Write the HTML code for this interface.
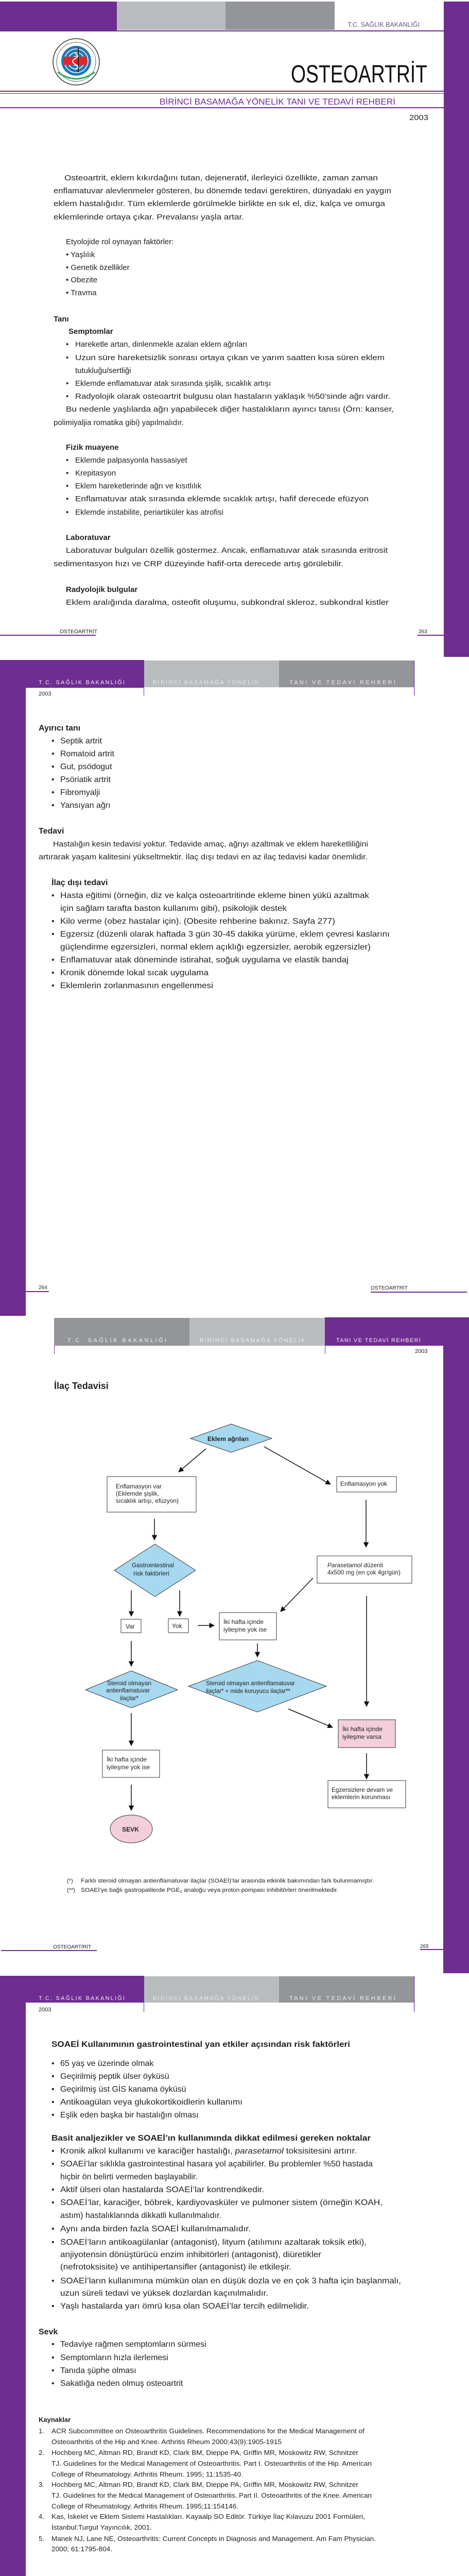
<!DOCTYPE html>
<html><head><meta charset="utf-8"><style>
html,body{margin:0;padding:0;background:#fff;width:911px;height:5108px;overflow:hidden;}
svg{display:block;}
text{font-family:"Liberation Sans",Arial,sans-serif;fill:#222;}
.b{font-size:15px;}
.l{font-size:16px;}
.h{font-size:16px;font-weight:bold;}
.f{font-size:12px;}
.r{font-size:13px;}
.n{font-size:11px;}
.hd{font-size:11px;fill:#f2eef6;}
</style></head><body>
<svg width="911" height="5108" viewBox="0 0 911 5108" xmlns="http://www.w3.org/2000/svg">
<defs>
<marker id="a" viewBox="0 0 10 10" refX="9" refY="5" markerWidth="7" markerHeight="7" orient="auto-start-reverse"><path d="M0,0 L10,5 L0,10 z" fill="#111"/></marker>
</defs>

<!-- ============ PAGE 1 ============ -->
<rect x="0" y="3" width="227" height="57" fill="#6f2c91"/>
<rect x="227" y="3" width="211" height="55" fill="#b9bcbf"/>
<rect x="438" y="3" width="212" height="55" fill="#939598"/>
<rect x="0" y="59" width="862" height="2" fill="#6f2c91"/>
<rect x="862" y="3" width="49" height="1272" fill="#6f2c91"/>
<text x="675" y="52" font-size="13" textLength="140" lengthAdjust="spacingAndGlyphs" style="fill:#6b4f86">T.C. SAĞLIK BAKANLIĞI</text>
<g>
<circle cx="148" cy="120" r="45" fill="#fff" stroke="#333" stroke-width="1.5"/>
<circle cx="148" cy="120" r="38" fill="none" stroke="#333" stroke-width="0.8"/>
<circle cx="148" cy="118" r="29" fill="#1f78b4"/>
<circle cx="148" cy="118" r="23" fill="none" stroke="#fff" stroke-width="1.5"/>
<circle cx="148" cy="118" r="16" fill="none" stroke="#fff" stroke-width="1.5"/>
<circle cx="148" cy="118" r="9" fill="none" stroke="#fff" stroke-width="1.5"/>
<rect x="124" y="110" width="45" height="16" fill="#e0262d"/>
<path d="M152,92 L152,140" stroke="#222" stroke-width="2"/>
<path d="M146,104 q10,4 0,10 q-10,5 0,11 q10,4 0,10" fill="none" stroke="#fff" stroke-width="2"/>
<path d="M112,140 q36,26 72,0" fill="none" stroke="#3a6" stroke-width="3"/>
</g>
<text x="565" y="160" font-size="48" textLength="265" lengthAdjust="spacingAndGlyphs" style="fill:#111">OSTEOARTRİT</text>
<rect x="0" y="176" width="862" height="2" fill="#6f2c91"/>
<rect x="0" y="181" width="862" height="1" fill="#6f2c91"/>
<text x="310" y="203" font-size="17" textLength="458" lengthAdjust="spacingAndGlyphs" style="fill:#6f2c91">BİRİNCİ BASAMAĞA YÖNELİK TANI VE TEDAVİ REHBERİ</text>
<rect x="0" y="208" width="862" height="2" fill="#6f2c91"/>
<text x="795" y="233" font-size="15" textLength="37" lengthAdjust="spacingAndGlyphs">2003</text>

<text class="b" x="125" y="350" textLength="609" lengthAdjust="spacingAndGlyphs">Osteoartrit, eklem kıkırdağını tutan, dejeneratif, ilerleyici özellikte, zaman zaman</text>
<text class="b" x="104" y="375" textLength="656" lengthAdjust="spacingAndGlyphs">enflamatuvar alevlenmeler gösteren, bu dönemde tedavi gerektiren, dünyadaki en yaygın</text>
<text class="b" x="104" y="400" textLength="644" lengthAdjust="spacingAndGlyphs">eklem hastalığıdır. Tüm eklemlerde görülmekle birlikte en sık el, diz, kalça ve omurga</text>
<text class="b" x="104" y="426" textLength="370" lengthAdjust="spacingAndGlyphs">eklemlerinde ortaya çıkar. Prevalansı yaşla artar.</text>

<text class="b" x="128" y="474">Etyolojide rol oynayan faktörler:</text>
<text class="b" x="128" y="499">• Yaşlılık</text>
<text class="b" x="128" y="524">• Genetik özellikler</text>
<text class="b" x="128" y="548">• Obezite</text>
<text class="b" x="128" y="573">• Travma</text>

<text class="b" x="104" y="624" font-weight="bold">Tanı</text>
<text class="b" x="133" y="648" font-weight="bold">Semptomlar</text>
<text class="b" x="128" y="673">•</text><text class="b" x="146" y="673">Hareketle artan, dinlenmekle azalan eklem ağrıları</text>
<text class="b" x="128" y="699">•</text><text class="b" x="146" y="699" textLength="601" lengthAdjust="spacingAndGlyphs">Uzun süre hareketsizlik sonrası ortaya çıkan ve yarım saatten kısa süren eklem</text>
<text class="b" x="146" y="724">tutukluğu/sertliği</text>
<text class="b" x="128" y="749">•</text><text class="b" x="146" y="749">Eklemde enflamatuvar atak sırasında şişlik, sıcaklık artışı</text>
<text class="b" x="128" y="774">•</text><text class="b" x="146" y="774" textLength="612" lengthAdjust="spacingAndGlyphs">Radyolojik olarak osteoartrit bulgusu olan hastaların yaklaşık %50’sinde ağrı vardır.</text>
<text class="b" x="128" y="799" textLength="637" lengthAdjust="spacingAndGlyphs">Bu nedenle  yaşlılarda ağrı yapabilecek diğer hastalıkların ayırıcı tanısı (Örn: kanser,</text>
<text class="b" x="104" y="825">polimiyaljia romatika gibi) yapılmalıdır.</text>

<text class="b" x="128" y="873" font-weight="bold">Fizik muayene</text>
<text class="b" x="128" y="898">•</text><text class="b" x="146" y="898">Eklemde palpasyonla hassasiyet</text>
<text class="b" x="128" y="923">•</text><text class="b" x="146" y="923">Krepitasyon</text>
<text class="b" x="128" y="948">•</text><text class="b" x="146" y="948">Eklem hareketlerinde ağrı ve kısıtlılık</text>
<text class="b" x="128" y="973">•</text><text class="b" x="146" y="973" textLength="570" lengthAdjust="spacingAndGlyphs">Enflamatuvar atak sırasında eklemde sıcaklık artışı, hafif derecede efüzyon</text>
<text class="b" x="128" y="999">•</text><text class="b" x="146" y="999">Eklemde instabilite, periartiküler kas atrofisi</text>

<text class="b" x="128" y="1048" font-weight="bold">Laboratuvar</text>
<text class="b" x="128" y="1073" textLength="625" lengthAdjust="spacingAndGlyphs">Laboratuvar bulguları özellik göstermez. Ancak, enflamatuvar atak sırasında eritrosit</text>
<text class="b" x="104" y="1099" textLength="563" lengthAdjust="spacingAndGlyphs">sedimentasyon hızı ve CRP düzeyinde hafif-orta derecede artış görülebilir.</text>
<text class="b" x="128" y="1149" font-weight="bold">Radyolojik bulgular</text>
<text class="b" x="128" y="1174" textLength="627" lengthAdjust="spacingAndGlyphs">Eklem aralığında daralma, osteofit oluşumu, subkondral skleroz, subkondral kistler</text>

<text x="116" y="1229" font-size="10" textLength="73" lengthAdjust="spacingAndGlyphs">OSTEOARTRİT</text>
<rect x="0" y="1232" width="186" height="2" fill="#6f2c91"/>
<text x="813" y="1229" font-size="10">263</text>
<rect x="811" y="1232" width="51" height="2" fill="#6f2c91"/>

<!-- ============ PAGE 2 ============ -->
<rect x="0" y="1281" width="280" height="54" fill="#6f2c91"/>
<rect x="280" y="1282" width="262" height="52" fill="#b9bcbf"/>
<rect x="542" y="1282" width="263" height="52" fill="#939598"/>
<rect x="0" y="1335" width="50" height="1219" fill="#6f2c91"/>
<rect x="279" y="1334" width="1" height="16" fill="#6f2c91"/>
<rect x="804" y="1282" width="1.2" height="68" fill="#6f2c91"/>
<text class="hd" x="75" y="1328" textLength="167" lengthAdjust="spacing">T.C. SAĞLIK BAKANLIĞI</text>
<text class="hd" x="297" y="1328" textLength="205" lengthAdjust="spacing" style="fill:#e6e7e8">BİRİNCİ BASAMAĞA YÖNELİK</text>
<text class="hd" x="562" y="1328" textLength="206" lengthAdjust="spacing" style="fill:#eeeeee">TANI VE TEDAVİ REHBERİ</text>
<text x="75" y="1350" font-size="11">2003</text>

<text class="h" x="75" y="1418">Ayırıcı tanı</text>
<text class="l" x="100" y="1443">•</text><text class="l" x="117" y="1443">Septik artrit</text>
<text class="l" x="100" y="1468">•</text><text class="l" x="117" y="1468">Romatoid artrit</text>
<text class="l" x="100" y="1493">•</text><text class="l" x="117" y="1493">Gut, psödogut</text>
<text class="l" x="100" y="1518">•</text><text class="l" x="117" y="1518">Psöriatik artrit</text>
<text class="l" x="100" y="1543">•</text><text class="l" x="117" y="1543">Fibromyalji</text>
<text class="l" x="100" y="1568">•</text><text class="l" x="117" y="1568">Yansıyan ağrı</text>

<text class="h" x="75" y="1618">Tedavi</text>
<text class="b" x="103" y="1643" textLength="612" lengthAdjust="spacingAndGlyphs">Hastalığın kesin tedavisi yoktur. Tedavide amaç, ağrıyı azaltmak ve eklem hareketliliğini</text>
<text class="b" x="75" y="1668" textLength="639" lengthAdjust="spacingAndGlyphs">artırarak yaşam kalitesini yükseltmektir. İlaç dışı tedavi en az ilaç tedavisi kadar önemlidir.</text>

<text class="h" x="100" y="1718">İlaç dışı tedavi</text>
<text class="l" x="100" y="1743">•</text><text class="l" x="117" y="1743" textLength="600" lengthAdjust="spacingAndGlyphs">Hasta eğitimi (örneğin, diz ve kalça osteoartritinde ekleme binen yükü azaltmak</text>
<text class="l" x="117" y="1768" textLength="440" lengthAdjust="spacingAndGlyphs">için sağlam tarafta baston kullanımı gibi), psikolojik destek</text>
<text class="l" x="100" y="1793">•</text><text class="l" x="117" y="1793" textLength="534" lengthAdjust="spacingAndGlyphs">Kilo verme (obez hastalar için). (Obesite rehberine bakınız. Sayfa 277)</text>
<text class="l" x="100" y="1818">•</text><text class="l" x="117" y="1818" textLength="640" lengthAdjust="spacingAndGlyphs">Egzersiz (düzenli olarak haftada 3 gün 30-45 dakika yürüme, eklem çevresi kaslarını</text>
<text class="l" x="117" y="1843" textLength="603" lengthAdjust="spacingAndGlyphs">güçlendirme egzersizleri, normal eklem açıklığı egzersizler, aerobik egzersizler)</text>
<text class="l" x="100" y="1868">•</text><text class="l" x="117" y="1868" textLength="560" lengthAdjust="spacingAndGlyphs">Enflamatuvar atak döneminde istirahat, soğuk uygulama ve elastik bandaj</text>
<text class="l" x="100" y="1893">•</text><text class="l" x="117" y="1893" textLength="288" lengthAdjust="spacingAndGlyphs">Kronik dönemde lokal sıcak uygulama</text>
<text class="l" x="100" y="1918">•</text><text class="l" x="117" y="1918" textLength="297" lengthAdjust="spacingAndGlyphs">Eklemlerin zorlanmasının engellenmesi</text>

<text x="75" y="2502" font-size="10">264</text>
<rect x="50" y="2506" width="45" height="2" fill="#6f2c91"/>
<text x="720" y="2503" font-size="10" textLength="72" lengthAdjust="spacingAndGlyphs">OSTEOARTRİT</text>
<rect x="720" y="2507" width="187" height="2" fill="#6f2c91"/>

<!-- ============ PAGE 3 ============ -->
<rect x="105" y="2558" width="263" height="54" fill="#939598"/>
<rect x="368" y="2558" width="263" height="54" fill="#b9bcbf"/>
<rect x="631" y="2557" width="280" height="55" fill="#6f2c91"/>
<rect x="861" y="2557" width="50" height="1273" fill="#6f2c91"/>
<rect x="105" y="2612" width="1" height="16" fill="#6f2c91"/>
<rect x="631" y="2612" width="1" height="16" fill="#6f2c91"/>
<text class="hd" x="131" y="2605" textLength="192" lengthAdjust="spacing" style="fill:#f0f0f0">T.C. SAĞLIK BAKANLIĞI</text>
<text class="hd" x="388" y="2605" textLength="204" lengthAdjust="spacing" style="fill:#eeeeee">BİRİNCİ BASAMAĞA YÖNELİK</text>
<text class="hd" x="653" y="2605" textLength="164" lengthAdjust="spacing" style="fill:#f4eef8">TANI VE TEDAVİ REHBERİ</text>
<text x="806" y="2626" font-size="11">2003</text>

<text x="105" y="2696" font-size="18" font-weight="bold">İlaç Tedavisi</text>

<g stroke="#111" stroke-width="1.5" fill="none" marker-end="url(#a)">
<line x1="400" y1="2812" x2="347" y2="2857"/>
<line x1="513" y1="2808" x2="642" y2="2881"/>
<line x1="300" y1="2948" x2="300" y2="2989"/>
<line x1="711" y1="2911" x2="711" y2="3003"/>
<line x1="608" y1="3063" x2="545" y2="3128"/>
<line x1="255" y1="3087" x2="255" y2="3137"/>
<line x1="349" y1="3087" x2="349" y2="3137"/>
<line x1="384" y1="3155" x2="416" y2="3155"/>
<line x1="500" y1="3190" x2="500" y2="3216"/>
<line x1="255" y1="3185" x2="255" y2="3234"/>
<line x1="712" y1="3098" x2="712" y2="3312"/>
<line x1="560" y1="3317" x2="646" y2="3353"/>
<line x1="712" y1="3403" x2="712" y2="3453"/>
<line x1="255" y1="3325" x2="255" y2="3388"/>
<line x1="255" y1="3464" x2="255" y2="3514"/>
</g>
<g stroke="#333" stroke-width="1">
<polygon points="449,2764 528,2792 449,2819 370,2792" fill="#a6d8f0"/>
<rect x="208" y="2866" width="173" height="69" fill="#fff"/>
<rect x="654" y="2866" width="116" height="30" fill="#fff"/>
<polygon points="301,2997 380,3048 301,3099 222,3048" fill="#a6d8f0"/>
<rect x="616" y="3020" width="184" height="53" fill="#fff"/>
<rect x="235" y="3143" width="39" height="26" fill="#fff"/>
<rect x="327" y="3142" width="39" height="27" fill="#fff"/>
<rect x="426" y="3130" width="111" height="53" fill="#fff"/>
<polygon points="255,3243 345,3280 255,3315 166,3280" fill="#a6d8f0"/>
<polygon points="500,3223 634,3273 500,3323 366,3273" fill="#a6d8f0"/>
<rect x="657" y="3338" width="111" height="54" fill="#f2cfda"/>
<rect x="637" y="3456" width="151" height="53" fill="#fff"/>
<rect x="199" y="3397" width="111" height="53" fill="#fff"/>
<ellipse cx="255" cy="3550" rx="41" ry="27" fill="#f2cfda"/>
</g>
<text class="f" x="403" y="2797" font-weight="bold" textLength="80" lengthAdjust="spacingAndGlyphs">Eklem ağrıları</text>
<text class="f" x="225" y="2889" textLength="89" lengthAdjust="spacingAndGlyphs">Enflamasyon var</text>
<text class="f" x="225" y="2903" textLength="84" lengthAdjust="spacingAndGlyphs">(Eklemde şişlik,</text>
<text class="f" x="225" y="2917" textLength="122" lengthAdjust="spacingAndGlyphs">sıcaklık artışı, efüzyon)</text>
<text class="f" x="661" y="2884" textLength="91" lengthAdjust="spacingAndGlyphs">Enflamasyon yok</text>
<text class="f" x="256" y="3042" textLength="82" lengthAdjust="spacingAndGlyphs">Gastrointestinal</text>
<text class="f" x="259" y="3058" textLength="70" lengthAdjust="spacingAndGlyphs">risk faktörleri</text>
<text class="f" x="636" y="3042" textLength="108" lengthAdjust="spacingAndGlyphs"><tspan font-style="italic">Parasetamol</tspan> düzenli</text>
<text class="f" x="636" y="3056" textLength="142" lengthAdjust="spacingAndGlyphs">4x500 mg (en çok 4gr/gün)</text>
<text class="f" x="244" y="3161">Var</text>
<text class="f" x="334" y="3160">Yok</text>
<text class="f" x="434" y="3152" textLength="78" lengthAdjust="spacingAndGlyphs">İki hafta içinde</text>
<text class="f" x="434" y="3167" textLength="84" lengthAdjust="spacingAndGlyphs">iyileşme yok ise</text>
<text class="f" x="208" y="3271" textLength="86" lengthAdjust="spacingAndGlyphs">Steroid olmayan</text>
<text class="f" x="206" y="3285" textLength="85" lengthAdjust="spacingAndGlyphs">antienflamatuvar</text>
<text class="f" x="233" y="3300" textLength="36" lengthAdjust="spacingAndGlyphs">ilaçlar*</text>
<text class="f" x="400" y="3271" textLength="173" lengthAdjust="spacingAndGlyphs">Steroid olmayan antienflamatuvar</text>
<text class="f" x="400" y="3286" textLength="164" lengthAdjust="spacingAndGlyphs">ilaçlar* + mide koruyucu ilaçlar**</text>
<text class="f" x="665" y="3360" textLength="78" lengthAdjust="spacingAndGlyphs">İki hafta içinde</text>
<text class="f" x="665" y="3375" textLength="76" lengthAdjust="spacingAndGlyphs">iyileşme varsa</text>
<text class="f" x="644" y="3478" textLength="119" lengthAdjust="spacingAndGlyphs">Egzersizlere devam ve</text>
<text class="f" x="644" y="3492" textLength="114" lengthAdjust="spacingAndGlyphs">eklemlerin korunması</text>
<text class="f" x="207" y="3419" textLength="78" lengthAdjust="spacingAndGlyphs">İki hafta içinde</text>
<text class="f" x="207" y="3434" textLength="84" lengthAdjust="spacingAndGlyphs">iyileşme yok ise</text>
<text class="f" x="237" y="3555" font-weight="bold" textLength="33" lengthAdjust="spacingAndGlyphs">SEVK</text>

<text class="n" x="130" y="3654">(*)</text>
<text class="n" x="157" y="3654" textLength="569" lengthAdjust="spacingAndGlyphs">Farklı steroid olmayan antienflamatuvar ilaçlar (SOAEİ)’lar arasında etkinlik bakımından fark bulunmamıştır.</text>
<text class="n" x="130" y="3672">(**)</text>
<text class="n" x="157" y="3672" textLength="500" lengthAdjust="spacingAndGlyphs">SOAEİ’ye bağlı gastropatilerde PGE<tspan font-size="7" dy="2">2</tspan><tspan dy="-2"> analoğu veya proton pompası inhibitörleri önerilmektedir.</tspan></text>

<text x="103" y="3782" font-size="10" textLength="74" lengthAdjust="spacingAndGlyphs">OSTEOARTİRİT</text>
<rect x="2" y="3785" width="186" height="2" fill="#6f2c91"/>
<text x="816" y="3781" font-size="10">265</text>
<rect x="816" y="3783" width="45" height="2" fill="#6f2c91"/>

<!-- ============ PAGE 4 ============ -->
<rect x="0" y="3835" width="280" height="52" fill="#6f2c91"/>
<rect x="280" y="3836" width="262" height="51" fill="#b9bcbf"/>
<rect x="542" y="3836" width="263" height="51" fill="#939598"/>
<rect x="0" y="3887" width="50" height="1221" fill="#6f2c91"/>
<rect x="279" y="3887" width="1" height="18" fill="#6f2c91"/>
<rect x="804" y="3836" width="1.2" height="69" fill="#6f2c91"/>
<text class="hd" x="75" y="3882" textLength="167" lengthAdjust="spacing">T.C. SAĞLIK BAKANLIĞI</text>
<text class="hd" x="297" y="3882" textLength="205" lengthAdjust="spacing" style="fill:#e6e7e8">BİRİNCİ BASAMAĞA YÖNELİK</text>
<text class="hd" x="562" y="3882" textLength="206" lengthAdjust="spacing" style="fill:#eeeeee">TANI VE TEDAVİ REHBERİ</text>
<text x="75" y="3904" font-size="11">2003</text>

<text class="h" x="100" y="3973" textLength="580" lengthAdjust="spacingAndGlyphs">SOAEİ Kullanımının gastrointestinal yan etkiler açısından risk faktörleri</text>
<text class="l" x="100" y="4010">•</text><text class="l" x="117" y="4010">65 yaş ve üzerinde olmak</text>
<text class="l" x="100" y="4035">•</text><text class="l" x="117" y="4035">Geçirilmiş peptik ülser öyküsü</text>
<text class="l" x="100" y="4060">•</text><text class="l" x="117" y="4060">Geçirilmiş üst GİS kanama öyküsü</text>
<text class="l" x="100" y="4085">•</text><text class="l" x="117" y="4085" textLength="354" lengthAdjust="spacingAndGlyphs">Antikoagülan veya glukokortikoidlerin kullanımı</text>
<text class="l" x="100" y="4110">•</text><text class="l" x="117" y="4110">Eşlik eden başka bir hastalığın olması</text>

<text class="h" x="100" y="4155" textLength="620" lengthAdjust="spacingAndGlyphs">Basit analjezikler ve SOAEİ’ın kullanımında dikkat edilmesi gereken noktalar</text>
<text class="l" x="100" y="4180">•</text><text class="l" x="117" y="4180" textLength="576" lengthAdjust="spacingAndGlyphs">Kronik alkol kullanımı ve karaciğer hastalığı, <tspan font-style="italic">parasetamol</tspan> toksisitesini artırır.</text>
<text class="l" x="100" y="4205">•</text><text class="l" x="117" y="4205" textLength="607" lengthAdjust="spacingAndGlyphs">SOAEİ’lar sıklıkla gastrointestinal hasara yol açabilirler. Bu problemler %50 hastada</text>
<text class="l" x="117" y="4230">hiçbir ön belirti vermeden başlayabilir.</text>
<text class="l" x="100" y="4255">•</text><text class="l" x="117" y="4255" textLength="396" lengthAdjust="spacingAndGlyphs">Aktif ülseri olan hastalarda SOAEİ’lar kontrendikedir.</text>
<text class="l" x="100" y="4280">•</text><text class="l" x="117" y="4280" textLength="626" lengthAdjust="spacingAndGlyphs">SOAEİ’lar, karaciğer, böbrek, kardiyovasküler ve pulmoner sistem  (örneğin KOAH,</text>
<text class="l" x="117" y="4305">astım) hastalıklarında dikkatli kullanılmalıdır.</text>
<text class="l" x="100" y="4331">•</text><text class="l" x="117" y="4331" textLength="370" lengthAdjust="spacingAndGlyphs">Aynı anda birden fazla SOAEİ  kullanılmamalıdır.</text>
<text class="l" x="100" y="4357">•</text><text class="l" x="117" y="4357" textLength="595" lengthAdjust="spacingAndGlyphs">SOAEİ’ların antikoagülanlar (antagonist), lityum (atılımını azaltarak toksik etki),</text>
<text class="l" x="117" y="4381" textLength="507" lengthAdjust="spacingAndGlyphs">anjiyotensin dönüştürücü enzim inhibitörleri (antagonist), diüretikler</text>
<text class="l" x="117" y="4405" textLength="449" lengthAdjust="spacingAndGlyphs">(nefrotoksisite) ve antihipertansifler (antagonist) ile etkileşir.</text>
<text class="l" x="100" y="4432">•</text><text class="l" x="117" y="4432" textLength="662" lengthAdjust="spacingAndGlyphs">SOAEİ’ların kullanımına mümkün olan en düşük dozla ve en çok 3 hafta için başlanmalı,</text>
<text class="l" x="117" y="4456" textLength="404" lengthAdjust="spacingAndGlyphs">uzun süreli tedavi ve yüksek dozlardan kaçınılmalıdır.</text>
<text class="l" x="100" y="4481">•</text><text class="l" x="117" y="4481" textLength="483" lengthAdjust="spacingAndGlyphs">Yaşlı hastalarda yarı ömrü kısa olan SOAEİ’lar tercih edilmelidir.</text>

<text class="h" x="75" y="4531">Sevk</text>
<text class="l" x="100" y="4555">•</text><text class="l" x="117" y="4555">Tedaviye rağmen semptomların sürmesi</text>
<text class="l" x="100" y="4581">•</text><text class="l" x="117" y="4581">Semptomların hızla ilerlemesi</text>
<text class="l" x="100" y="4606">•</text><text class="l" x="117" y="4606">Tanıda şüphe olması</text>
<text class="l" x="100" y="4631">•</text><text class="l" x="117" y="4631">Sakatlığa neden olmuş osteoartrit</text>

<text x="75" y="4701" font-size="13" font-weight="bold">Kaynaklar</text>
<text class="r" x="75" y="4723">1.</text><text class="r" x="100" y="4723" textLength="608" lengthAdjust="spacingAndGlyphs">ACR Subcommittee on Osteoarthritis Guidelines. Recommendations for the Medical Management of</text>
<text class="r" x="100" y="4744" textLength="447" lengthAdjust="spacingAndGlyphs">Osteoarthritis of the Hip and Knee. Arthritis Rheum 2000;43(9):1905-1915</text>
<text class="r" x="75" y="4765">2.</text><text class="r" x="100" y="4765" textLength="596" lengthAdjust="spacingAndGlyphs">Hochberg MC, Altman RD, Brandt KD, Clark BM, Dieppe PA, Griffin MR, Moskowitz RW, Schnitzer</text>
<text class="r" x="100" y="4786" textLength="622" lengthAdjust="spacingAndGlyphs">TJ. Guidelines for the Medical Management of Osteoarthritis. Part I. Osteoarthritis of the Hip. American</text>
<text class="r" x="100" y="4807" textLength="372" lengthAdjust="spacingAndGlyphs">College of Rheumatology. Arthritis Rheum. 1995; 11:1535-40.</text>
<text class="r" x="75" y="4827">3.</text><text class="r" x="100" y="4827" textLength="596" lengthAdjust="spacingAndGlyphs">Hochberg MC, Altman RD, Brandt KD, Clark BM, Dieppe PA, Griffin MR, Moskowitz RW, Schnitzer</text>
<text class="r" x="100" y="4848" textLength="622" lengthAdjust="spacingAndGlyphs">TJ. Guidelines for the Medical Management of Osteoarthritis. Part II. Osteoarthritis of the Knee. American</text>
<text class="r" x="100" y="4869" textLength="363" lengthAdjust="spacingAndGlyphs">College of Rheumatology. Arthritis Rheum. 1995;11:154146.</text>
<text class="r" x="75" y="4889">4.</text><text class="r" x="100" y="4889" textLength="609" lengthAdjust="spacingAndGlyphs">Kas, İskelet ve Eklem Sistemi Hastalıkları.  Kayaalp SO Editör. Türkiye İlaç Kılavuzu 2001 Formüleri,</text>
<text class="r" x="100" y="4910" textLength="195" lengthAdjust="spacingAndGlyphs">İstanbul:Turgut Yayıncılık, 2001.</text>
<text class="r" x="75" y="4932">5.</text><text class="r" x="100" y="4932" textLength="630" lengthAdjust="spacingAndGlyphs">Manek NJ, Lane NE, Osteoarthritis: Current Concepts in Diagnosis and Management. Am Fam Physician.</text>
<text class="r" x="100" y="4952" textLength="118" lengthAdjust="spacingAndGlyphs">2000; 61:1795-804.</text>

<text x="75" y="5057" font-size="10">266</text>
<rect x="50" y="5061" width="45" height="2" fill="#6f2c91"/>
<text x="722" y="5058" font-size="10" textLength="76" lengthAdjust="spacingAndGlyphs">OSTEOARTİRİT</text>
<rect x="720" y="5062" width="187" height="2" fill="#6f2c91"/>
</svg>
</body></html>
